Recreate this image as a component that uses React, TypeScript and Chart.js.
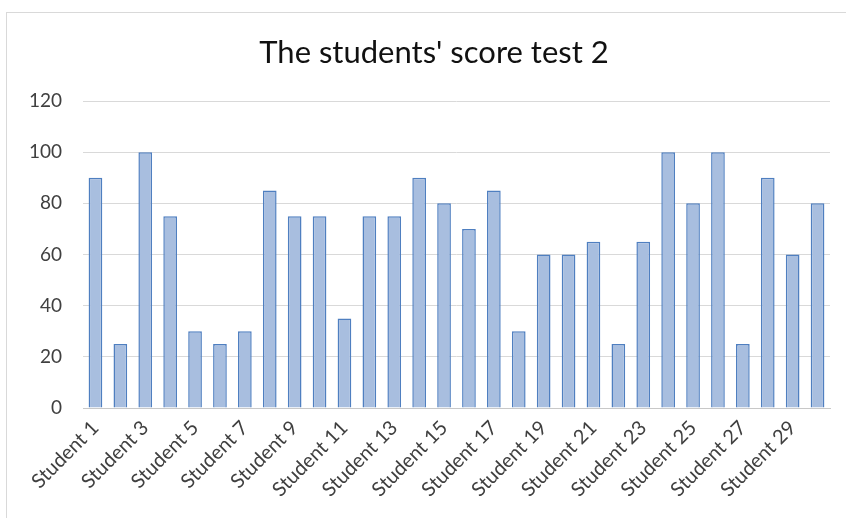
import React, { useEffect, useRef } from "react";
import { Chart, registerables } from "chart.js";

Chart.register(...registerables);

const title = "The students' score test 2";
const categories = Array.from({ length: 30 }, (_, i) => `Student ${i + 1}`);
const scores = [90, 25, 100, 75, 30, 25, 30, 85, 75, 75, 35, 75, 75, 90, 80, 70, 85, 30, 60, 60, 65, 25, 65, 100, 80, 100, 25, 90, 60, 80];
const yTicks = [0, 20, 40, 60, 80, 100, 120];

const FONT = "Lato, 'Open Sans', sans-serif";

const titlePlugin = {
  id: "offsetTitle",
  afterDraw(chart: any) {
    const c = chart.ctx;
    c.save();
    c.font = `normal 31px ${FONT}`;
    c.fillStyle = "#111111";
    c.textAlign = "center";
    c.textBaseline = "middle";
    c.fillText(title, chart.width * 0.513, 53);
    c.restore();
  },
};

export default function App() {
  const ref = useRef<HTMLCanvasElement | null>(null);
  useEffect(() => {
    document.body.style.margin = "0";
    const ctx = ref.current!;
    const chart = new Chart(ctx, {
      type: "bar",
      data: {
        labels: categories,
        datasets: [
          {
            data: scores,
            backgroundColor: "#a8bedf",
            borderColor: "#4f7fc0",
            borderWidth: 1.5,
            barPercentage: 0.55,
            categoryPercentage: 1,
          },
        ],
      },
      plugins: [titlePlugin],
      options: {
        animation: false,
        responsive: false,
        maintainAspectRatio: false,
        layout: { padding: { top: 101, right: 16, bottom: 10, left: 0 } },
        plugins: {
          legend: { display: false },
          tooltip: { enabled: false },
          title: { display: false },
        },
        scales: {
          x: {
            grid: { display: false, drawTicks: false },
            border: { display: true, color: "#c8c8c8", width: 1 },
            ticks: {
              autoSkip: false,
              minRotation: 45,
              maxRotation: 45,
              padding: 8,
              color: "#404040",
              font: { family: FONT, size: 20 },
              callback: (_v: any, i: number) => (i % 2 === 0 ? categories[i] : ""),
            },
            afterFit: (s: any) => {
              s.height = 100;
            },
          },
          y: {
            min: 0,
            max: 120,
            afterBuildTicks: (s: any) => {
              s.ticks = yTicks.map((v) => ({ value: v }));
            },
            grid: { color: "#d9d9d9", lineWidth: 1, drawTicks: false },
            border: { display: false },
            ticks: {
              padding: 21,
              color: "#404040",
              font: { family: FONT, size: 19 },
            },
            afterFit: (s: any) => {
              s.width = 83;
            },
          },
        },
      },
    });
    return () => chart.destroy();
  }, []);
  return (
    <div style={{ position: "relative", width: 846, height: 518 }}>
      <canvas ref={ref} width={846} height={518} style={{ position: "absolute", left: 0, top: 0 }} />
      <div
        style={{
          position: "absolute",
          left: 6,
          top: 12,
          width: 846,
          height: 520,
          border: "1px solid #d9d9d9",
          pointerEvents: "none",
        }}
      />
    </div>
  );
}
